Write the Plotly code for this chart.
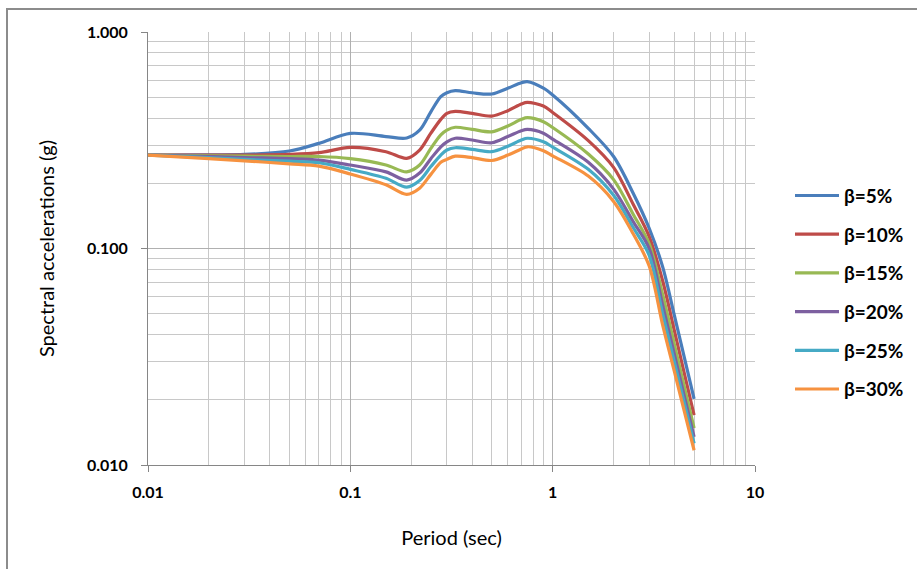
import plotly.graph_objects as go

# ---- data ----
periods = [0.01, 0.02, 0.03, 0.05, 0.07, 0.1, 0.15, 0.19, 0.22, 0.25, 0.28, 0.3, 0.33,
           0.4, 0.5, 0.6, 0.7, 0.75, 0.9, 1.0, 1.5, 2.0, 2.5, 3.0, 3.5, 4.0, 4.5, 5.0]

sa_b5 = [0.270, 0.271, 0.272, 0.282, 0.306, 0.340, 0.329, 0.324, 0.352, 0.428, 0.503, 0.524, 0.536,
         0.524, 0.517, 0.550, 0.583, 0.590, 0.550, 0.512, 0.359, 0.266, 0.180, 0.124, 0.082, 0.0488, 0.0307, 0.0202]
sa_b10 = [0.270, 0.270, 0.270, 0.272, 0.277, 0.293, 0.280, 0.261, 0.285, 0.341, 0.395, 0.421, 0.430,
          0.421, 0.409, 0.433, 0.465, 0.473, 0.455, 0.425, 0.315, 0.237, 0.160, 0.1135, 0.0706, 0.0415, 0.0259, 0.0170]
sa_b15 = [0.270, 0.268, 0.267, 0.266, 0.266, 0.260, 0.243, 0.226, 0.243, 0.290, 0.335, 0.352, 0.363,
          0.355, 0.346, 0.368, 0.395, 0.402, 0.385, 0.362, 0.273, 0.208, 0.144, 0.105, 0.061, 0.0359, 0.0225, 0.0148]
sa_b20 = [0.270, 0.266, 0.263, 0.260, 0.256, 0.243, 0.226, 0.207, 0.223, 0.260, 0.295, 0.311, 0.323,
          0.317, 0.308, 0.329, 0.350, 0.355, 0.341, 0.320, 0.250, 0.188, 0.133, 0.100, 0.0544, 0.0323, 0.0203, 0.0135]
sa_b25 = [0.270, 0.263, 0.258, 0.253, 0.249, 0.232, 0.211, 0.192, 0.206, 0.239, 0.270, 0.285, 0.292,
          0.287, 0.280, 0.297, 0.317, 0.323, 0.311, 0.294, 0.232, 0.176, 0.125, 0.093, 0.0497, 0.0298, 0.0189, 0.0126]
sa_b30 = [0.270, 0.260, 0.254, 0.246, 0.240, 0.221, 0.197, 0.178, 0.190, 0.220, 0.250, 0.258, 0.267,
          0.263, 0.255, 0.270, 0.288, 0.295, 0.283, 0.268, 0.216, 0.165, 0.117, 0.083, 0.0441, 0.0269, 0.0173, 0.0117]

series_names = ["β=5%", "β=10%", "β=15%", "β=20%", "β=25%", "β=30%"]
series_values = [sa_b5, sa_b10, sa_b15, sa_b20, sa_b25, sa_b30]
colors = ["#4A7EBB", "#BE4B48", "#98B954", "#7D60A0", "#46AAC5", "#F69240"]

x_tickvals = [0.01, 0.1, 1, 10]
x_ticktext = ["0.01", "0.1", "1", "10"]
y_tickvals = [0.01, 0.1, 1]
y_ticktext = ["0.010", "0.100", "1.000"]

FONT = "Lato"

# layout geometry (pixels)
W, H = 917, 569
ML, MR, MT, MB = 148, 0, 32, 104
PAPER_W = W - ML - MR
PLOT_W = 607
PLOT_H = H - MT - MB

fig = go.Figure()
for i, (name, vals, col) in enumerate(zip(series_names, series_values, colors)):
    fig.add_trace(go.Scatter(
        x=periods, y=vals, name=name, mode="lines",
        line=dict(color=col, width=3.2, shape="spline", smoothing=0.9),
        legendgroup="g%d" % i,
    ))

fig.update_xaxes(
    type="log", range=[-2, 1], domain=[0, PLOT_W / PAPER_W],
    tickvals=x_tickvals, ticktext=x_ticktext,
    ticks="outside", ticklen=6, tickcolor="#868686",
    ticklabelstandoff=7,
    showline=True, linecolor="#868686", linewidth=1,
    showgrid=True, gridcolor="#B0B0B0", gridwidth=1,
    minor=dict(showgrid=True, gridcolor="#C8C8C8", gridwidth=1, dtick="D1", ticks=""),
    tickfont=dict(family=FONT, size=16, color="#000000", weight="bold"),
    title=dict(text="Period (sec)", font=dict(family=FONT, size=20, color="#000000"), standoff=30),
    zeroline=False, mirror=False,
)
fig.update_yaxes(
    type="log", range=[-2, 0],
    tickvals=y_tickvals, ticktext=y_ticktext,
    ticks="outside", ticklen=6, tickcolor="#868686",
    ticklabelstandoff=10,
    showline=True, linecolor="#868686", linewidth=1,
    showgrid=True, gridcolor="#B0B0B0", gridwidth=1,
    minor=dict(showgrid=True, gridcolor="#C8C8C8", gridwidth=1, dtick="D1", ticks=""),
    tickfont=dict(family=FONT, size=16, color="#000000", weight="bold"),
    title=dict(text="Spectral accelerations (g)", font=dict(family=FONT, size=20, color="#000000"), standoff=26),
    zeroline=False,
)

# outer chart-area border (left and top visible)
fig.add_shape(type="rect", xref="paper", yref="paper",
              x0=(7 - ML) / PAPER_W, x1=1.5, y0=-1.0, y1=(H - MB - 9) / PLOT_H,
              line=dict(color="#8C8C8C", width=2), fillcolor="rgba(0,0,0,0)", layer="below")

fig.update_layout(
    width=W, height=H,
    margin=dict(l=ML, r=MR, t=MT, b=MB, autoexpand=False),
    paper_bgcolor="white", plot_bgcolor="white",
    font=dict(family=FONT, color="#000000"),
    showlegend=True,
    legend=dict(
        x=(790 - ML) / PAPER_W, xanchor="left", y=0.398, yanchor="middle",
        font=dict(family=FONT, size=19, color="#000000", weight="bold"),
        tracegroupgap=11, itemwidth=44,
        bgcolor="rgba(0,0,0,0)",
    ),
)

fig.write_html("out.html")
